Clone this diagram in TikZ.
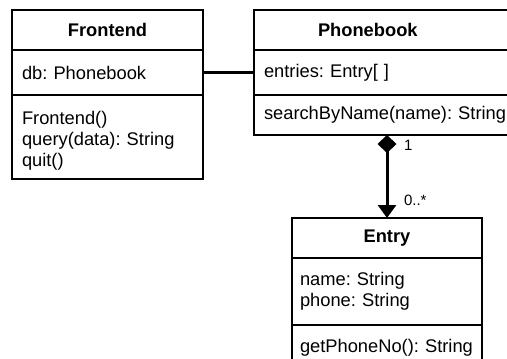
\documentclass[tikz,border=0pt]{standalone}
\usepackage{fontspec}
\setmainfont{Liberation Sans}
\frenchspacing
\usetikzlibrary{positioning,arrows.meta}

\begin{document}
\begin{tikzpicture}[%
	x=1pt, y=-1pt,
	every node/.style = {outer sep=0pt},
	classhead/.style = {draw, line width=1.4pt, anchor=north west, minimum height=40pt, font=\fontsize{18.3}{20.5}\selectfont\bfseries},
	compart/.style = {draw, line width=1.4pt, inner xsep=10pt, align=left, font=\fontsize{18.3}{21}\selectfont},
	assoc/.style = {line width=3pt},
	comp/.style = {line width=3pt, {Diamond[length=18pt,width=19pt]}-{Triangle[length=13pt,width=18pt]}},
	mult/.style = {font=\fontsize{15}{17}\selectfont, inner sep=0pt}
	]
  \useasboundingbox (0,0) rectangle (507,359);
  \clip (0,0) rectangle (507,359);
  % Frontend
  \node [classhead, minimum width=191pt] (fe) at (12,10) {Frontend};
  \node [compart, text width=171pt, minimum height=45pt, below=0pt of fe] (fe-attr) {db: Phonebook};
  \node [compart, text width=171pt, minimum height=84pt, below=0pt of fe-attr] (fe-ops) {\rule{0pt}{21pt}Frontend()\\query(data): String\\quit()};
  % Phonebook
  \node [classhead, text width=250pt, inner xsep=10pt, align=left] (pb) at (254,10) {\hspace*{54pt}Phonebook};
  \node [compart, text width=250pt, minimum height=45pt, below=0pt of pb] (pb-attr) {entries: Entry[ ]};
  \node [compart, text width=250pt, minimum height=40pt, below=0pt of pb-attr] (pb-ops) {searchByName(name): String};
  % Entry
  \node [classhead, minimum width=190pt] (ent) at (292,218) {Entry};
  \node [compart, inner xsep=8pt, text width=174pt, minimum height=67pt, below=0pt of ent] (ent-attr) {name: String\\phone: String};
  \node [compart, inner xsep=8pt, text width=174pt, minimum height=45pt, below=0pt of ent-attr] (ent-ops) {getPhoneNo(): String};
  % relations
  \draw [assoc] (fe-attr.east) -- (pb-attr.west);
  \draw [comp] (pb-ops.south -| ent.north) -- node [mult, pos=0.12, right=17pt] (m-one) {1}
    node [mult, pos=0.79, right=17pt] (m-many) {0..*} (ent.north);
\end{tikzpicture}
\end{document}
